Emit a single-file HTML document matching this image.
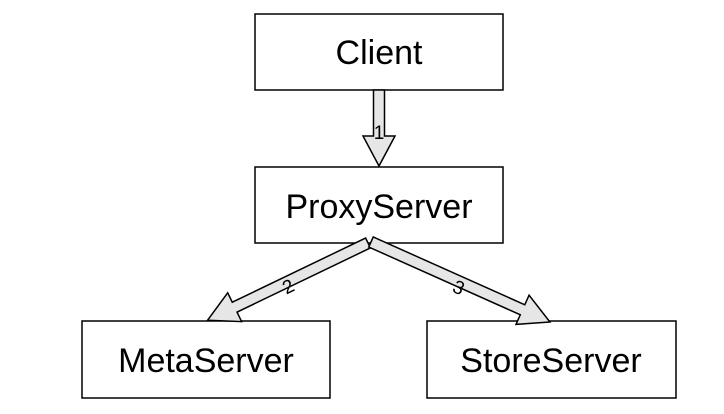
<!DOCTYPE html>
<html><head><style>
html,body{margin:0;padding:0;background:#fff;}
svg{display:block;}
text{font-family:"Liberation Sans",Arial,sans-serif;}
</style></head><body>
<svg width="724" height="414" viewBox="0 0 724 414" xmlns="http://www.w3.org/2000/svg">
<rect x="255" y="14" width="248" height="76" fill="#fff" stroke="#000" stroke-width="1.5"/>
<text x="379" y="64" font-size="34" text-anchor="middle">Client</text>
<rect x="255" y="167" width="248" height="76" fill="#fff" stroke="#000" stroke-width="1.5"/>
<text x="379" y="218" font-size="34" text-anchor="middle">ProxyServer</text>
<rect x="82" y="321" width="248" height="77" fill="#fff" stroke="#000" stroke-width="1.5"/>
<text x="206" y="372" font-size="34" text-anchor="middle">MetaServer</text>
<rect x="427" y="321" width="249" height="77" fill="#fff" stroke="#000" stroke-width="1.5"/>
<text x="551" y="372" font-size="34" text-anchor="middle">StoreServer</text>
<polygon points="373.5,90 384.5,90 384.5,136 395,136 379,166 363,136 373.5,136" fill="#e6e6e6" stroke="#000" stroke-width="1.5"/>
<text x="379" y="139" font-size="19" text-anchor="middle">1</text>
<g transform="translate(368,243) rotate(154.3)">
<polygon points="0,-5.5 148,-5.5 148,-16 178,0 148,16 148,5.5 0,5.5" fill="#e6e6e6" stroke="#000" stroke-width="1.5"/>
</g>
<text x="288" y="293" font-size="19" text-anchor="middle" transform="rotate(-25.7 288 286)">2</text>
<g transform="translate(371,242) rotate(24.1)">
<polygon points="0,-5.5 166,-5.5 166,-16 196,0 166,16 166,5.5 0,5.5" fill="#e6e6e6" stroke="#000" stroke-width="1.5"/>
</g>
<text x="459" y="294" font-size="19" text-anchor="middle" transform="rotate(24.1 459 287)">3</text>
</svg>
</body></html>
